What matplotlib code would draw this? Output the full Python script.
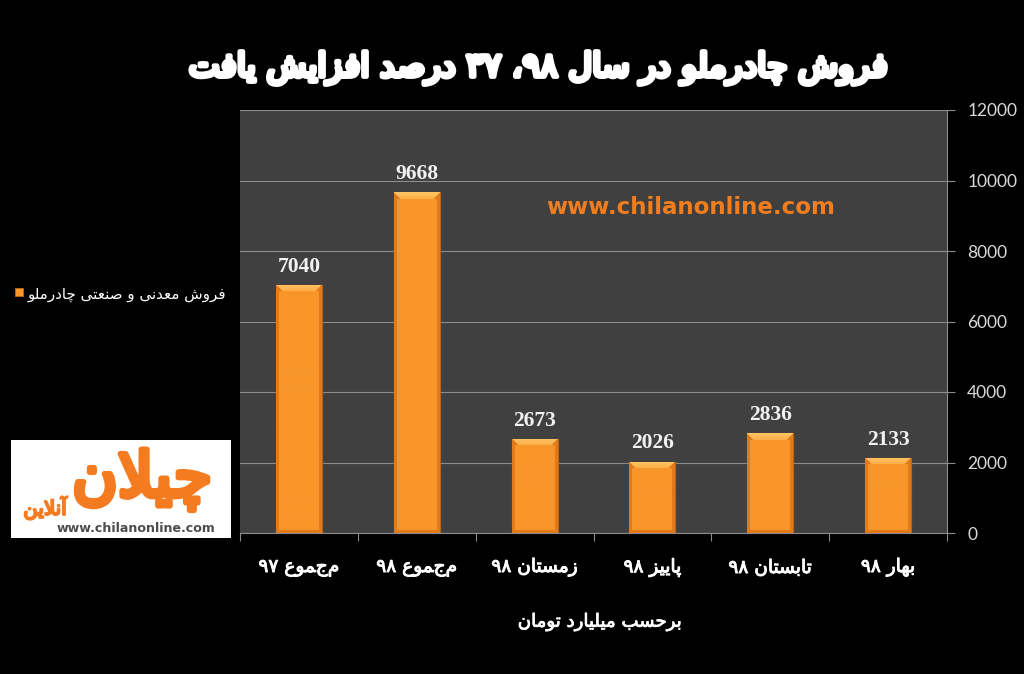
import numpy as np
import matplotlib
matplotlib.use('Agg')
import matplotlib.pyplot as plt
from matplotlib import patheffects as pe
from matplotlib.patches import Rectangle

# ---------------- data ----------------
categories = ['مجموع ۹۷', 'مجموع ۹۸', 'زمستان ۹۸', 'پاییز ۹۸', 'تابستان ۹۸', 'بهار ۹۸']
values = [7040, 9668, 2673, 2026, 2836, 2133]
yticks = [0, 2000, 4000, 6000, 8000, 10000, 12000]
title = 'فروش چادرملو در سال ۹۸، ۳۷ درصد افزایش یافت'
series_name = 'فروش معدنی و صنعتی چادرملو'
unit_label = 'برحسب میلیارد تومان'
watermark = 'www.chilanonline.com'
logo_main = 'چیلان'
logo_sub = 'آنلاین'

# ---------------- simple Persian shaping + visual ordering ----------------
DUAL = set('بپتثجچحخسشصضطظعغفقکگلمنهیئ')
FORMS = {
    'ا': (0xFE8D, 0xFE8E, None, None),
    'آ': (0xFE81, 0xFE82, None, None),
    'ب': (0xFE8F, 0xFE90, 0xFE91, 0xFE92),
    'پ': (0xFB56, 0xFB57, 0xFB58, 0xFB59),
    'ت': (0xFE95, 0xFE96, 0xFE97, 0xFE98),
    'ح': (0xFEA1, 0xFEA2, 0xFEA3, 0xFEA4),
    'چ': (0xFB7A, 0xFB7B, 0xFB7C, 0xFB7D),
    'د': (0xFEA9, 0xFEAA, None, None),
    'ر': (0xFEAD, 0xFEAE, None, None),
    'ز': (0xFEAF, 0xFEB0, None, None),
    'س': (0xFEB1, 0xFEB2, 0xFEB3, 0xFEB4),
    'ش': (0xFEB5, 0xFEB6, 0xFEB7, 0xFEB8),
    'ص': (0xFEB9, 0xFEBA, 0xFEBB, 0xFEBC),
    'ع': (0xFEC9, 0xFECA, 0xFECB, 0xFECC),
    'ف': (0xFED1, 0xFED2, 0xFED3, 0xFED4),
    'ل': (0xFEDD, 0xFEDE, 0xFEDF, 0xFEE0),
    'م': (0xFEE1, 0xFEE2, 0xFEE3, 0xFEE4),
    'ن': (0xFEE5, 0xFEE6, 0xFEE7, 0xFEE8),
    'ه': (0xFEE9, 0xFEEA, 0xFEEB, 0xFEEC),
    'و': (0xFEED, 0xFEEE, None, None),
    'ی': (0xFBFC, 0xFBFD, 0xFBFE, 0xFBFF),
    'ک': (0xFB8E, 0xFB8F, 0xFB90, 0xFB91),
}
DIG = set('۰۱۲۳۴۵۶۷۸۹0123456789')


def shape(word):
    out = []
    i, n = 0, len(word)
    while i < n:
        c = word[i]
        if c not in FORMS:
            out.append(c)
            i += 1
            continue
        prev = word[i - 1] if i > 0 else None
        jp = prev in DUAL
        if c == 'ل' and i + 1 < n and word[i + 1] in ('ا', 'آ'):
            if word[i + 1] == 'ا':
                out.append(chr(0xFEFC if jp else 0xFEFB))
            else:
                out.append(chr(0xFEF6 if jp else 0xFEF5))
            i += 2
            continue
        nxt = word[i + 1] if i + 1 < n else None
        jn = (c in DUAL) and (nxt in FORMS)
        iso, fin, ini, med = FORMS[c]
        if jp and jn:
            f = med
        elif jp:
            f = fin
        elif jn:
            f = ini
        else:
            f = iso
        out.append(chr(f))
        i += 1
    return ''.join(out)


def fa(text):
    vis = []
    for t in reversed(text.split(' ')):
        runs = []
        for ch in t:
            isd = ch in DIG
            if runs and runs[-1][0] == isd:
                runs[-1][1] += ch
            else:
                runs.append([isd, ch])
        parts = [s if isd else shape(s)[::-1] for isd, s in reversed(runs)]
        vis.append(''.join(parts))
    return ' '.join(vis)


# ---------------- figure ----------------
W, H = 1024, 674
fig = plt.figure(figsize=(W / 100, H / 100), dpi=100, facecolor='black')
renderer = fig.canvas.get_renderer()


def fit(t, width_px):
    w = t.get_window_extent(renderer).width
    t.set_fontsize(t.get_fontsize() * width_px / w)
    return t.get_fontsize()


ax_l, ax_r, ax_t, ax_b = 240, 947, 110, 533
ax = fig.add_axes([ax_l / W, (H - ax_b) / H, (ax_r - ax_l) / W, (ax_b - ax_t) / H])
ax.set_facecolor('#404040')

x = np.arange(len(values))
bw = 0.39
bars = ax.bar(x, values, width=bw, color='#F8962A', edgecolor='#B8651C',
              linewidth=0.8, zorder=3)
ax.set_xlim(-0.5, len(values) - 0.5)
ax.set_ylim(yticks[0], yticks[-1])

# bevel shading clipped to each bar
base = np.array([248, 150, 42]) / 255
top_c = np.array([255, 196, 98]) / 255
side_c = np.array([226, 122, 26]) / 255
px_per_cat = (ax_r - ax_l) / len(values)
px_per_val = (ax_b - ax_t) / (yticks[-1] - yticks[0])
for b, v, xi in zip(bars, values, x):
    wpx = int(round(bw * px_per_cat))
    hpx = max(int(round(v * px_per_val)), 2)
    img = np.tile(base, (hpx, wpx, 1))
    bev = 7
    rr, cc = np.mgrid[0:hpx, 0:wpx]
    side = (cc < 3) | (cc >= wpx - 3)
    img[side] = side_c
    bot = rr >= hpx - 3
    img[bot] = side_c
    topm = (rr < bev) & (cc >= rr) & (cc < wpx - rr)
    frac = (rr / bev)[..., None]
    img[topm] = (top_c * (1 - 0.5 * frac) + base * 0.5 * frac)[topm]
    sidetop = (rr < bev) & ~((cc >= rr) & (cc < wpx - rr))
    img[sidetop] = side_c
    im = ax.imshow(img, extent=[xi - bw / 2, xi + bw / 2, 0, v], aspect='auto',
                   origin='upper', interpolation='bilinear', zorder=3.5)
    im.set_clip_path(b)
ax.set_xlim(-0.5, len(values) - 0.5)
ax.set_ylim(yticks[0], yticks[-1])

# value labels
for xi, v in zip(x, values):
    ax.annotate(f'{v}', (xi, v), xytext=(0, 9.5), textcoords='offset points',
                ha='center', va='baseline', fontfamily='Liberation Serif',
                fontweight='bold', fontsize=15.5, color='#F2F2F2', zorder=5)

# axes styling
for s in ['top', 'left']:
    ax.spines[s].set_visible(False)
ax.spines['right'].set_color('#8C8C8C')
ax.spines['bottom'].set_color('#8C8C8C')
ax.yaxis.tick_right()
ax.set_yticks(yticks)
ax.set_yticklabels([str(t) for t in yticks], fontfamily='Lato', fontsize=12.5, color='#D9D9D9')
ax.tick_params(axis='y', length=6, color='#8C8C8C', pad=8.5, width=0.8)
ax.yaxis.grid(True, color='#8C8C8C', linewidth=0.8)
ax.set_axisbelow(True)

ax.set_xticks(x)
ax.set_xticklabels([fa(c) for c in categories], fontfamily='DejaVu Sans',
                   fontsize=13, color='white')
ax.set_xticks(np.arange(-0.5, len(values)), minor=True)
ax.tick_params(axis='x', which='major', length=0, pad=18)
ax.tick_params(axis='x', which='minor', length=6, color='#8C8C8C', width=0.8)
for lbl in ax.get_xticklabels():
    lbl.set_path_effects([pe.withStroke(linewidth=0.7, foreground='white')])
fs = fit(ax.get_xticklabels()[0], 81)
for lbl in ax.get_xticklabels():
    lbl.set_fontsize(fs)

# title
t = fig.text(539 / W, 1 - 68 / H, fa(title), ha='center', va='center',
             fontfamily='DejaVu Sans', fontsize=26, color='white',
             path_effects=[pe.withStroke(linewidth=3.5, foreground='white')])
fit(t, 700)

# axis unit label
t = fig.text(600 / W, 1 - 622 / H, fa(unit_label), ha='center', va='center',
             fontfamily='DejaVu Sans', fontsize=12, color='white',
             path_effects=[pe.withStroke(linewidth=0.6, foreground='white')])
fit(t, 164)

# legend
fig.add_artist(Rectangle((15 / W, 1 - 296 / H), 8 / W, 8 / H, transform=fig.transFigure,
                         facecolor='#F8962A', edgecolor='#C06A1C', linewidth=0.6))
t = fig.text(28 / W, 1 - 294 / H, fa(series_name), ha='left', va='center',
             fontfamily='DejaVu Sans', fontsize=11, color='white')
fit(t, 199)

# watermark
fig.text(691 / W, 1 - 207 / H, watermark, ha='center', va='center',
         fontfamily='DejaVu Sans', fontweight='bold', fontsize=16.5,
         color='#F07D1E', zorder=6)

# logo
fig.add_artist(Rectangle((11 / W, 1 - 538 / H), 220 / W, 98 / H, transform=fig.transFigure,
                         facecolor='white', edgecolor='none'))
t = fig.text(142 / W, 1 - 480 / H, fa(logo_main), ha='center', va='center',
             fontfamily='DejaVu Sans', fontsize=40, color='#F47B20',
             path_effects=[pe.withStroke(linewidth=4, foreground='#F47B20')])
fit(t, 140)
t = fig.text(45 / W, 1 - 508 / H, fa(logo_sub), ha='center', va='center',
             fontfamily='DejaVu Sans', fontsize=10, color='#F47B20',
             path_effects=[pe.withStroke(linewidth=1.5, foreground='#F47B20')])
fit(t, 44)
t = fig.text(136 / W, 1 - 529 / H, watermark, ha='center', va='center',
             fontfamily='DejaVu Sans', fontweight='bold', fontsize=9,
             color='#4D4D4D')
fit(t, 158)

fig.savefig('out.png', dpi=100, facecolor='black')
